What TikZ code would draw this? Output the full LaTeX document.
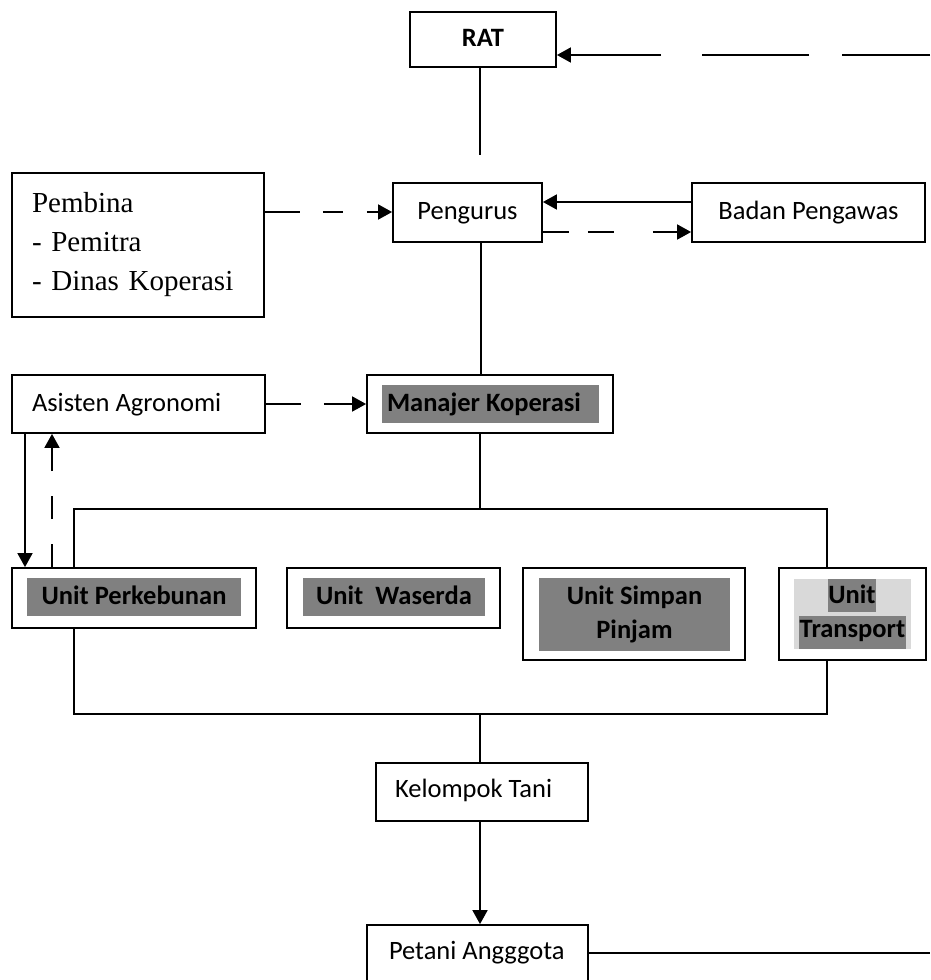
\documentclass[tikz,border=0pt]{standalone}
\usepackage{fontspec}
\setmainfont{Carlito}
\newfontfamily\tnr{Liberation Serif}
\usetikzlibrary{arrows.meta}
\definecolor{ugray}{HTML}{808080}
\definecolor{lgray}{HTML}{D9D9D9}
\tikzset{
 box/.style={draw=black, line width=1.8pt, inner sep=0pt, font=\fontsize{26.5}{34}\selectfont},
 one/.style={text height=19pt, text depth=5pt},
 hl/.style={fill=ugray, inner sep=0pt, font=\bfseries\fontsize{26.5}{34}\selectfont},
 conn/.style={line width=1.8pt},
 arr/.style={conn, -{Triangle[length=14pt,width=15pt]}},
}
\begin{document}
\begin{tikzpicture}[x=1pt,y=-1pt]
\path[use as bounding box, clip] (0,0) rectangle (930,980);
\fill[white] (0,0) rectangle (930,980);
% top
\node[box, one, font=\bfseries\fontsize{26.5}{34}\selectfont, minimum width=146pt, minimum height=55pt] (rat) at (483,39.5) {RAT};
\node[box, one, minimum width=149pt, minimum height=59pt] (peng) at (467.5,212.5) {Pengurus};
\node[box, one, minimum width=233pt, minimum height=59pt] (badan) at (808.5,212.5) {Badan Pengawas};
\node[box, font=\tnr\fontsize{29}{39}\selectfont, align=left, text width=212pt, minimum width=252pt, minimum height=144pt] (pemb) at (138,245) {Pembina\\- Pemitra\\- Dinas Koperasi};
\node[box, one, minimum width=253pt, minimum height=58pt] (asis) at (138.5,404) {\makebox[213pt][l]{Asisten Agronomi}};
\node[box, minimum width=246pt, minimum height=58pt] (man) at (490,404) {};
\node[hl, one, minimum width=217pt, minimum height=38pt] (manT) at (490.5,404) {\makebox[207pt][l]{Manajer Koperasi}};
% units
\node[box, minimum width=244pt, minimum height=60pt] (perk) at (134,598) {};
\node[hl, one, minimum width=214pt, minimum height=38pt] (perkT) at (134,597) {Unit Perkebunan};
\node[box, minimum width=213pt, minimum height=60pt] (wase) at (393.5,598) {};
\node[hl, one, minimum width=182pt, minimum height=38pt] (waseT) at (394,597) {Unit\ \ Waserda};
\node[box, minimum width=222pt, minimum height=92pt] (simp) at (634,614) {};
\node[hl, align=center, minimum width=191pt, minimum height=73pt] (simpT) at (634.5,614.5) {Unit Simpan\\Pinjam};
\node[box, minimum width=147pt, minimum height=92pt] (trans) at (852.5,614) {};
\node[fill=lgray, inner sep=0pt, minimum width=117pt, minimum height=70pt] (transBg) at (852.5,614) {};
\node[hl, one, text depth=3pt, minimum height=33pt, inner xsep=0.5pt] (transU) at (852,595.5) {Unit};
\node[hl, one, text depth=9pt, minimum height=33pt, inner xsep=0.5pt] (transT) at (852.5,632.5) {Transport};
% bottom
\node[box, one, text depth=8pt, minimum width=212pt, minimum height=58pt] (kel) at (482,792) {\makebox[174pt][l]{Kelompok Tani}};
\node[box, one, text depth=15pt, minimum width=221pt, minimum height=64pt] (pet) at (477.5,957) {\makebox[177pt][l]{Petani Angggota}};
% connectors
\coordinate (ratEnd) at (480,155);
\draw[conn] (rat.south -| ratEnd) -- (ratEnd);
\coordinate (ratR) at (930,55);
\draw[arr, dash pattern=on 88pt off 33pt on 107pt off 41pt on 200pt] (ratR) -- (rat.east |- ratR);
\coordinate (yP) at (0,212);
\draw[arr, dash pattern=on 35pt off 23pt on 20pt off 24pt on 60pt] (pemb.east |- yP) -- (peng.west |- yP);
\coordinate (yB) at (0,202);
\draw[arr] (badan.west |- yB) -- (peng.east |- yB);
\coordinate (yD) at (0,232);
\draw[arr, dash pattern=on 26pt off 19pt on 26pt off 39pt on 60pt] (peng.east |- yD) -- (badan.west |- yD);
\coordinate (xM) at (481,0);
\draw[conn] (peng.south -| xM) -- (man.north -| xM);
\draw[arr, dash pattern=on 35pt off 23pt on 100pt] (asis.east) -- (man.west);
\coordinate (tm) at (480,509);
\draw[conn] (man.south -| tm) -- (tm);
\coordinate (tl) at (74,509);
\coordinate (tr) at (827,509);
\draw[conn] (perk.north -| tl) -- (tl) -- (tr) -- (trans.north -| tr);
\coordinate (bl) at (74,714);
\coordinate (br) at (827,714);
\coordinate (bm) at (480,714);
\draw[conn] (perk.south -| bl) -- (bl) -- (br) -- (trans.south -| br);
\draw[conn] (bm) -- (kel.north -| bm);
\draw[arr] (kel.south -| bm) -- (pet.north -| bm);
\coordinate (petR) at (930,953);
\draw[conn] (pet.east |- petR) -- (petR);
\coordinate (xA) at (25,0);
\coordinate (xB) at (52,0);
\draw[arr] (asis.south -| xA) -- (perk.north -| xA);
\draw[arr, dash pattern=on 23pt off 25pt] (perk.north -| xB) -- (asis.south -| xB);
\end{tikzpicture}
\end{document}
